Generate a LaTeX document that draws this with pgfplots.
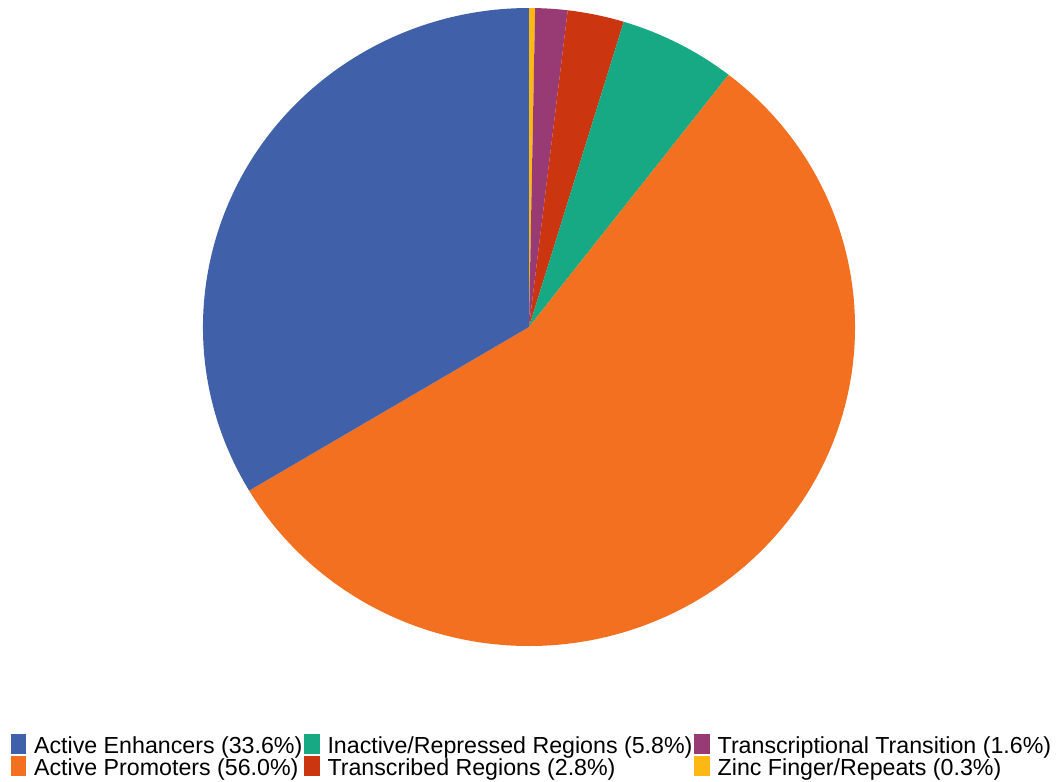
\documentclass[border=0pt]{standalone}
\usepackage{pgfplots}
\usepackage{pgfplotstable}
\pgfplotsset{compat=1.18}
\usepackage{fontspec}
\setmainfont{Liberation Sans}

% Slice shares, clockwise from twelve o'clock
\pgfplotstableread[col sep=comma]{
name,value
Zinc Finger/Repeats,0.3
Transcriptional Transition,1.6
Transcribed Regions,2.8
Inactive/Repressed Regions,5.8
Active Promoters,56.0
Active Enhancers,33.6
}\piedata

\definecolor{slice0}{HTML}{FDB813}
\definecolor{slice1}{HTML}{983B74}
\definecolor{slice2}{HTML}{CB3510}
\definecolor{slice3}{HTML}{16A984}
\definecolor{slice4}{HTML}{F37021}
\definecolor{slice5}{HTML}{4061AA}

\begin{document}
\begin{tikzpicture}
% total of all shares
\gdef\pietotal{0}
\pgfplotstableforeachcolumnelement{value}\of\piedata\as\v{%
  \pgfmathparse{\pietotal+\v}\xdef\pietotal{\pgfmathresult}}
\begin{axis}[
  hide axis,
  x=163pt, y=159.5pt,
  xmin=-1.6227, xmax=1.6288,
  ymin=-1.4232, ymax=1.0251,
  clip=false,
  legend columns=3,
  legend cell align=left,
  legend image code/.code={\fill[#1] (0pt,-4.5pt) rectangle (7.2pt,5pt);},
  legend style={
    at={(0.501,0.0333)}, anchor=center,
    draw=none, fill=none,
    font=\fontsize{11.6}{11}\selectfont,
    row sep=0pt,
    nodes={inner sep=0pt, text height=10pt, text depth=1pt},
    /tikz/every odd column/.append style={column sep=4pt},
    /tikz/every even column/.append style={column sep=1pt},
  },
]
\def\startang{90}
\pgfplotsforeachungrouped \i in {0,...,5}{%
  \pgfplotstablegetelem{\i}{value}\of\piedata
  \pgfmathsetmacro\endang{\startang-\pgfplotsretval/\pietotal*360}%
  \pgfmathsetmacro\sx{cos(\startang)}%
  \pgfmathsetmacro\sy{sin(\startang)}%
  \edef\slice{\noexpand\fill[slice\i] (axis cs:0,0) -- (axis cs:\sx,\sy)
    arc[start angle=\startang, end angle=\endang, x radius=163pt, y radius=159.5pt] -- cycle;}%
  \slice
  \global\let\startang\endang
}

\addlegendimage{slice5}\addlegendentry{Active Enhancers (33.6\%)}
\addlegendimage{slice3}\addlegendentry{Inactive/Repressed Regions (5.8\%)}
\addlegendimage{slice1}\addlegendentry{Transcriptional Transition (1.6\%)}
\addlegendimage{slice4}\addlegendentry{Active Promoters (56.0\%)}
\addlegendimage{slice2}\addlegendentry{Transcribed Regions (2.8\%)}
\addlegendimage{slice0}\addlegendentry{Zinc Finger/Repeats (0.3\%)}
\end{axis}
\path[use as bounding box] (current axis.south west) rectangle (current axis.north east);
\end{tikzpicture}
\end{document}
